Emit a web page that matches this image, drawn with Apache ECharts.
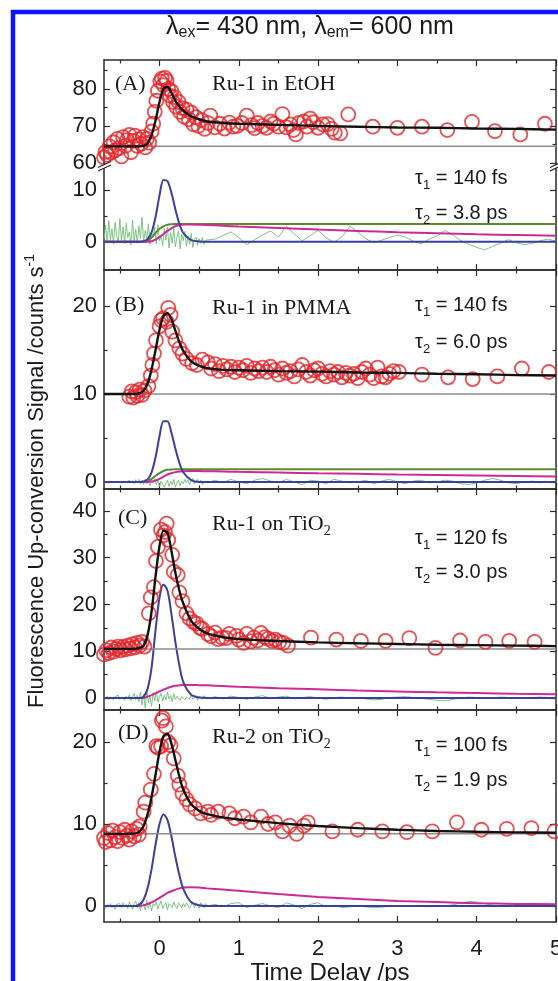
<!DOCTYPE html>
<html><head><meta charset="utf-8">
<script src="https://cdn.jsdelivr.net/npm/echarts@6/dist/echarts.min.js"></script>
<style>html,body{margin:0;padding:0;background:#fff}#c{width:558px;height:981px}</style>
</head><body><div id="c"></div>
<script>
// ---------------- DATA ----------------
const X_MIN = -0.7, X_MAX = 5;
const xMajorTicks = [0, 1, 2, 3, 4, 5];
const xMinorTicks = [-0.5, 0.5, 1.5, 2.5, 3.5, 4.5];

// fit curve sample times (shared)
const fitT = [-0.7,-0.4,-0.3,-0.25,-0.2,-0.15,-0.1,-0.05,0,0.05,0.1,0.15,0.2,0.25,0.3,0.4,0.5,0.6,0.8,1,1.5,2,2.5,3,3.5,4,4.5,5];

// Panel A : Ru-1 in EtOH
const baseA = 64.5;
const fitA  = [64.5,64.5,64.5,64.5,64.6,65.3,67.5,71.5,76.5,80.0,80.5,79.0,76.8,75.3,74.1,72.6,71.8,71.2,70.8,70.6,70.3,70.0,69.8,69.6,69.5,69.3,69.2,69.0];
const blueA = [0,0,0,0,0.1,0.5,1.8,4.8,9.0,12.0,11.8,9.5,6.3,3.5,1.7,0.3,0.05,0,0,0,0,0,0,0,0,0,0,0];
const oliveA= [0,0,0,0,0,0.2,0.8,1.7,2.5,3.0,3.3,3.4,3.45,3.45,3.45,3.45,3.45,3.45,3.45,3.45,3.45,3.45,3.45,3.45,3.45,3.45,3.45,3.45];
const magA  = [0,0,0,0,0,0,0.1,0.4,0.9,1.5,2.1,2.6,3.0,3.25,3.35,3.35,3.3,3.25,3.1,2.95,2.65,2.35,2.1,1.85,1.65,1.45,1.3,1.15];
const dataA = [[-0.70,61.5],[-0.68,63.0],[-0.66,62.2],[-0.63,64.5],[-0.61,62.8],[-0.58,65.6],[-0.56,63.4],[-0.53,66.5],[-0.51,64.0],[-0.48,61.8],[-0.46,67.0],[-0.43,64.6],[-0.41,66.2],[-0.38,67.6],[-0.36,62.9],[-0.33,66.0],[-0.31,67.4],[-0.28,64.6],[-0.26,66.3],[-0.23,65.2],[-0.21,67.0],[-0.18,64.2],[-0.16,66.5],[-0.13,65.5],
 [-0.10,68.5],[-0.08,70.6],[-0.06,73.8],[-0.04,76.8],[-0.02,79.5],[0.01,82.0],[0.03,82.8],[0.05,81.0],[0.07,83.0],[0.09,82.2],[0.11,80.0],[0.13,78.2],[0.15,79.4],[0.17,76.5],[0.19,77.8],[0.21,75.2],[0.24,76.5],[0.26,73.8],[0.29,74.8],[0.31,72.5],[0.34,74.4],[0.37,71.8],[0.40,73.6],[0.43,70.4],[0.46,72.4],[0.49,70.0],[0.53,71.6],[0.57,69.2],[0.61,70.8],
 [0.64,72.8],[0.70,69.6],[0.76,70.6],[0.82,69.3],[0.88,70.9],[0.93,69.8],[0.98,70.0],[1.04,70.8],[1.10,72.8],[1.16,70.2],[1.20,69.4],[1.24,70.8],[1.30,70.0],[1.35,69.5],[1.40,71.2],[1.44,70.6],[1.50,69.8],[1.55,73.2],[1.60,69.6],[1.65,70.4],[1.69,68.9],[1.72,67.7],[1.76,70.8],[1.82,71.2],[1.86,69.8],[1.90,72.0],[1.94,71.0],[2.00,69.5],[2.06,70.4],[2.12,70.5],[2.17,69.2],[2.21,68.2],[2.28,68.0],[2.38,73.1],
 [2.69,69.8],[3.00,69.5],[3.31,69.8],[3.63,68.9],[3.94,71.1],[4.23,68.6],[4.55,67.7],[4.86,70.6]];

// Panel B : Ru-1 in PMMA
const baseB = 10;
const fitB  = [10,10,10,10.1,10.4,11.2,12.8,15.0,17.3,18.9,19.2,18.5,17.2,15.9,14.9,13.7,13.2,12.95,12.75,12.7,12.6,12.55,12.45,12.4,12.3,12.25,12.15,12.1];
const blueB = [0,0,0,0,0.05,0.3,1.1,2.8,5.2,6.9,6.9,5.6,3.8,2.2,1.1,0.2,0,0,0,0,0,0,0,0,0,0,0,0];
const oliveB= [0,0,0,0,0,0.1,0.35,0.7,1.0,1.25,1.38,1.43,1.45,1.45,1.45,1.45,1.45,1.45,1.45,1.45,1.45,1.45,1.45,1.45,1.45,1.45,1.45,1.45];
const magB  = [0,0,0,0,0,0,0.05,0.15,0.35,0.6,0.85,1.0,1.12,1.2,1.23,1.25,1.24,1.22,1.19,1.15,1.07,0.99,0.92,0.85,0.79,0.73,0.68,0.63];
const dataB = [[-0.38,9.7],[-0.35,10.3],[-0.33,9.6],[-0.30,10.2],[-0.28,9.8],[-0.25,10.5],[-0.22,9.9],[-0.19,10.4],[-0.14,10.9],[-0.11,12.1],[-0.09,13.3],[-0.07,14.6],[-0.045,16.1],[0.0,17.7],[0.02,18.4],[0.045,18.6],[0.09,18.2],[0.11,19.8],[0.14,19.0],[0.16,17.1],[0.20,16.1],[0.25,15.2],[0.29,14.6],[0.34,14.0],[0.41,13.5],[0.47,13.3],[0.54,13.9],[0.61,13.6],
 [0.65,12.9],[0.70,13.4],[0.75,12.6],[0.80,13.2],[0.85,12.8],[0.90,13.1],[0.95,12.5],[1.00,13.0],[1.05,12.7],[1.10,13.2],[1.15,12.4],[1.20,12.9],[1.25,12.6],[1.30,13.0],[1.35,12.5],[1.40,13.1],[1.45,12.7],[1.50,12.2],[1.55,12.9],[1.60,12.4],[1.65,12.6],[1.70,12.0],[1.75,12.8],[1.80,13.3],[1.85,12.5],[1.90,12.1],[1.95,12.7],[2.00,12.9],[2.05,12.3],[2.10,12.0],[2.15,12.6],[2.20,12.2],[2.25,12.5],[2.30,11.9],[2.35,12.4],[2.40,12.1],[2.45,12.3],[2.50,11.8],[2.55,12.5],[2.60,12.9],[2.65,12.2],[2.70,11.8],[2.75,13.0],[2.80,12.0],[2.85,11.9],[2.90,12.3],[2.95,12.6],[3.02,12.5],
 [3.31,12.2],[3.64,11.9],[3.95,11.7],[4.26,12.0],[4.57,12.9],[4.91,12.5]];

// Panel C : Ru-1 on TiO2
const baseC = 10.5;
const fitC  = [10.5,10.5,10.55,10.7,11.2,13.5,18.5,26.0,32.5,35.8,35.3,31.5,26.8,23.0,20.2,16.5,14.8,13.8,13.0,12.6,12.2,11.9,11.7,11.55,11.4,11.3,11.2,11.1];
const blueC = [0,0,0,0,0.3,2.0,6.5,14.5,21.5,24.3,23.0,18.0,12.0,7.0,3.4,0.7,0.1,0,0,0,0,0,0,0,0,0,0,0];
const magC  = [0,0,0,0,0,0.3,0.6,1.0,1.4,1.8,2.15,2.4,2.6,2.7,2.78,2.8,2.75,2.7,2.55,2.4,2.1,1.85,1.6,1.4,1.2,1.05,0.9,0.78];
const dataC = [[-0.70,9.3],[-0.67,10.2],[-0.64,9.6],[-0.61,10.8],[-0.58,9.9],[-0.55,10.5],[-0.52,11.0],[-0.49,10.2],[-0.46,10.9],[-0.43,10.4],[-0.40,11.2],[-0.37,10.6],[-0.34,11.5],[-0.31,10.8],[-0.28,11.8],[-0.25,11.2],[-0.22,12.0],[-0.19,11.0],
 [-0.135,18.1],[-0.11,21.5],[-0.07,23.7],[-0.045,29.3],[-0.02,32.3],[0.02,36.0],[0.05,34.8],[0.07,35.5],[0.09,37.3],[0.11,33.8],[0.16,30.6],[0.18,27.0],[0.23,26.3],[0.25,22.6],[0.29,20.7],[0.34,18.1],[0.38,17.0],[0.43,16.2],[0.47,15.9],[0.51,15.0],[0.54,14.8],[0.61,13.7],[0.65,13.2],[0.70,14.0],[0.74,12.6],[0.79,12.9],[0.84,12.8],[0.88,13.7],[0.97,13.3],[1.00,12.5],[1.06,11.8],[1.10,13.7],[1.15,12.1],[1.19,12.9],[1.24,12.3],[1.28,13.9],[1.33,13.0],[1.37,12.7],[1.42,12.2],[1.46,12.5],[1.51,12.0],[1.56,11.8],[1.62,11.2],
 [1.91,12.9],[2.23,12.5],[2.54,12.2],[2.85,12.2],[3.15,12.8],[3.48,10.7],[3.79,12.3],[4.11,12.0],[4.41,12.2],[4.73,12.0]];

// Panel D : Ru-2 on TiO2
const baseD = 8.8;
const fitD  = [8.8,8.8,8.85,9.1,9.8,11.2,13.3,16.0,18.8,20.7,21.0,19.8,17.8,15.8,14.2,12.4,11.6,11.2,10.8,10.55,10.1,9.75,9.5,9.3,9.15,9.05,8.98,8.93];
const blueD = [0,0,0,0.2,0.8,2.2,4.5,7.5,10.0,11.2,10.5,8.5,6.0,3.8,2.1,0.45,0.1,0,0,0,0,0,0,0,0,0,0,0];
const magD  = [0,0,0,0,0.1,0.25,0.45,0.7,1.0,1.3,1.6,1.8,2.0,2.15,2.25,2.3,2.25,2.15,2.0,1.85,1.45,1.1,0.85,0.62,0.48,0.35,0.26,0.2];
const dataD = [[-0.70,8.3],[-0.68,7.8],[-0.65,8.9],[-0.62,8.0],[-0.59,9.2],[-0.56,8.4],[-0.53,7.9],[-0.50,9.0],[-0.47,8.3],[-0.44,9.3],[-0.41,8.6],[-0.38,8.1],[-0.35,9.1],[-0.32,8.5],[-0.29,9.4],[-0.26,8.7],
 [-0.25,9.7],[-0.20,11.5],[-0.18,12.6],[-0.11,14.2],[-0.07,16.1],[-0.04,19.5],[-0.02,19.3],[0.02,19.5],[0.03,22.6],[0.045,22.9],[0.08,21.9],[0.11,20.0],[0.14,19.6],[0.18,18.0],[0.23,15.9],[0.25,14.8],[0.29,13.7],[0.34,13.0],[0.38,12.4],[0.45,11.9],[0.52,11.3],[0.61,11.5],[0.65,11.1],[0.74,11.5],[0.88,11.3],[0.95,10.7],[1.06,10.9],[1.15,10.2],[1.28,10.9],[1.37,10.0],[1.46,10.2],[1.55,9.1],[1.64,9.8],[1.73,8.8],[1.82,9.8],[1.87,10.2],
 [2.18,9.1],[2.50,9.3],[2.81,9.1],[3.12,9.0],[3.44,9.1],[3.75,10.2],[4.06,9.3],[4.38,9.4],[4.69,9.5],[4.98,9.1]];

// residuals: dense part starts at -0.7 step 0.02, sparse part starts at 0.7 step 0.1
const RES_T0 = -0.7, RES_DT = 0.02, RES_T1 = 0.7, RES_DT1 = 0.1;
const resA_dense = [0.5,3.2,-0.3,4.1,0.2,2.5,-0.5,3.8,1.0,-0.2,4.5,0.3,2.9,-0.4,3.6,0.8,1.9,-0.6,4.2,0.1,2.4,-0.3,3.1,0.6,4.8,-0.2,2.2,0.4,3.5,-0.5,1.7,0.9,2.8,-0.4,3.3,0.2,1.2,-0.8,2.6,0.3,2.9,-1.2,1.8,-0.3,2.5,-1.0,0.9,2.1,-1.4,1.5,0.2,2.0,-0.9,1.1,-0.5,1.6,-1.1,0.4,0.9,-0.7,0.6,-0.3,0.8,-0.5,0.3,0.5];
const resA_sparse= [0.5,1.2,1.9,0.8,-0.6,0.4,1.3,2.1,0.9,3.0,1.5,0.2,1.2,2.2,0.8,-0.1,0.9,3.0,1.9,0.6,-0.2,0.3,0.8,1.3,0.9,0.1,-0.4,0.5,1.1,2.2,1.3,0.2,-0.5,-1.1,-1.6,-0.9,-0.3,0.4,-0.2,-0.6,-0.3,0.2,0.5,0.1];
const resB_dense = [0.0,0.05,-0.05,0.0,0.05,-0.1,0.0,0.05,0.0,-0.05,0.0,0.05,-0.1,0.1,0.0,-0.15,0.2,-0.1,0.15,-0.2,0.25,-0.1,0.3,-0.25,0.2,-0.3,0.35,-0.2,0.1,-0.4,0.3,-0.1,0.4,-0.3,0.2,-0.5,0.1,0.3,-0.6,-0.2,0.2,-0.5,0.1,-0.3,0.3,-0.6,-0.1,0.2,-0.4,0.1,-0.2,0.3,-0.1,0.2,-0.3,0.1,0.4,-0.2,0.0,0.3,-0.1,0.2,-0.3,0.1,0.2,-0.1];
const resB_sparse= [0.2,-0.1,0.3,0.0,-0.2,0.2,0.4,0.1,-0.1,0.3,0.0,-0.3,0.2,0.1,-0.2,0.3,0.1,-0.1,0.0,0.2,-0.2,0.1,0.3,0.0,-0.2,0.1,0.2,-0.1,0.0,0.2,0.1,-0.2,-0.3,-0.1,0.2,0.4,0.2,-0.1,-0.2,0.0,0.1,-0.1,0.0,0.1];
const resC_dense = [0.3,-0.2,0.4,-0.3,0.2,0.5,-0.4,0.3,-0.1,0.6,-0.3,0.2,0.5,-0.5,0.4,-0.2,0.7,-0.6,0.3,1.0,-0.4,0.6,-0.8,1.3,-1.5,0.8,-2.2,1.6,-1.0,0.5,-1.8,1.2,-0.6,1.4,-0.9,0.3,1.0,-0.7,0.6,-0.4,1.2,-0.2,0.5,-0.8,0.9,-0.3,0.4,0.8,-0.5,0.3,0.6,-0.4,0.2,0.5,-0.2,0.7,-0.3,0.1,0.4,-0.5,0.3,0.2,-0.3,0.5,0.1,-0.2];
const resC_sparse= [0.3,-0.2,0.4,0.1,-0.3,0.2,0.5,-0.1,0.2,0.4,-0.2,0.1,0.3,0.0,-0.3,0.1,0.2,-0.1,0.0,-0.2,-0.4,-0.3,0.1,0.2,0.3,0.1,-0.1,-0.3,-0.5,-0.6,-0.3,0.0,0.2,0.1,-0.1,0.0,0.2,0.1,-0.1,0.0,0.1,0.2,0.1,0.0];
const resD_dense = [0.0,-0.3,0.2,-0.1,0.3,-0.2,0.1,-0.4,0.2,0.0,0.3,-0.2,0.4,-0.1,0.2,-0.3,0.5,0.1,-0.4,0.3,0.6,-0.2,0.4,-0.6,0.5,0.2,-0.5,0.7,-0.3,0.4,-0.6,0.3,0.0,0.5,-0.4,0.2,0.6,-0.3,0.1,0.4,-0.5,0.3,0.2,-0.2,0.5,0.0,-0.3,0.4,0.1,-0.2,0.3,-0.1,0.4,0.2,-0.3,0.1,0.5,-0.2,0.3,0.0,-0.3,0.4,0.1,-0.2,0.3,0.0];
const resD_sparse= [0.2,-0.1,0.3,0.4,-0.2,0.1,0.3,0.0,-0.2,0.4,0.1,-0.3,0.2,0.4,-0.1,0.1,-0.2,-0.1,0.0,-0.1,-0.2,-0.15,-0.05,0.0,-0.05,0.0,-0.05,-0.1,-0.05,0.0,0.15,0.35,0.55,0.5,0.3,0.1,0.0,-0.05,0.0,0.05,0.0,0.05,0.1,0.05];

// y tick labels per plot region
const yMajorA1 = [60,70,80], yMinorA1 = [65,75,85];
const yMajorA2 = [0,10],     yMinorA2 = [5];
const yMajorB  = [0,10,20],  yMinorB  = [5,15];
const yMajorC  = [0,10,20,30,40], yMinorC = [5,15,25,35];
const yMajorD  = [0,10,20],  yMinorD  = [5,15];

// ---------------- LAYOUT ----------------
const L = 104, R = 2;
const regions = [
  {top:60,  bot:163, min:60,   max:87.8, maj:yMajorA1, mnr:yMinorA1, lineTop:true,  lineBot:false},
  {top:163, bot:270, min:-5.5, max:15.3, maj:yMajorA2, mnr:yMinorA2, lineTop:false, lineBot:true},
  {top:270, bot:489, min:-0.8, max:24.1, maj:yMajorB,  mnr:yMinorB,  lineTop:true,  lineBot:true},
  {top:489, bot:710, min:-2.57,max:44.7, maj:yMajorC,  mnr:yMinorC,  lineTop:true,  lineBot:true},
  {top:710, bot:922, min:-1.95,max:23.9, maj:yMajorD,  mnr:yMinorD,  lineTop:true,  lineBot:true}
];
const AX = '#2b2b2b';
const SANS = '"Liberation Sans", Arial, Helvetica, sans-serif';
const SERIF = '"Liberation Serif", "Times New Roman", serif';
const MAJ = 6, MIN = 3.5;

const grids = [], xAxes = [], yAxes = [];
function xa(g, pos, ticks, len, line, extra) {
  return Object.assign({
    gridIndex: g, type: 'value', position: pos, min: X_MIN, max: X_MAX,
    axisLine: {show: line, onZero: false, lineStyle: {color: AX, width: 1.5}},
    axisTick: {show: ticks.length > 0, inside: true, length: len, customValues: ticks, lineStyle: {color: AX, width: 1.2}},
    axisLabel: {show: false}, splitLine: {show: false}
  }, extra || {});
}
function ya(g, pos, r, ticks, len, line, extra) {
  return Object.assign({
    gridIndex: g, type: 'value', position: pos, min: r.min, max: r.max,
    axisLine: {show: line, onZero: false, lineStyle: {color: AX, width: 1.5}},
    axisTick: {show: ticks.length > 0, inside: true, length: len, customValues: ticks, lineStyle: {color: AX, width: 1.2}},
    axisLabel: {show: false}, splitLine: {show: false}
  }, extra || {});
}
regions.forEach((r, p) => {
  const gm = 2 * p, gn = 2 * p + 1;
  const gdef = {left: L, right: R, top: r.top, height: r.bot - r.top, containLabel: false, outerBoundsMode: 'none'};
  grids.push(Object.assign({}, gdef));
  grids.push(Object.assign({}, gdef));
  const last = p === regions.length - 1;
  xAxes.push(xa(gm, 'bottom', r.lineBot ? xMajorTicks : [], MAJ, r.lineBot, last ? {
    axisLabel: {show: true, customValues: xMajorTicks, fontSize: 22, fontFamily: SANS, color: '#1a1a1a', margin: 16},
    name: 'Time Delay /ps', nameLocation: 'middle', nameGap: 35,
    nameTextStyle: {fontSize: 24, fontFamily: SANS, color: '#1a1a1a'}
  } : {}));
  xAxes.push(xa(gm, 'top', r.lineTop ? xMajorTicks : [], MAJ, r.lineTop));
  xAxes.push(xa(gn, 'bottom', r.lineBot ? xMinorTicks : [], MIN, false));
  xAxes.push(xa(gn, 'top', r.lineTop ? xMinorTicks : [], MIN, false));
  yAxes.push(ya(gm, 'left', r, r.maj, MAJ, true, {
    axisLabel: {show: true, customValues: r.maj, fontSize: 22, fontFamily: SANS, color: '#1a1a1a', margin: 7}
  }));
  yAxes.push(ya(gm, 'right', r, r.maj, MAJ, true));
  yAxes.push(ya(gn, 'left', r, r.mnr, MIN, false));
  yAxes.push(ya(gn, 'right', r, r.mnr, MIN, false));
});

const zip = (t, v) => t.map((x, i) => [x, v[i]]);
const resid = (d, s) => d.map((v, i) => [+(RES_T0 + i * RES_DT).toFixed(3), v])
  .concat(s.map((v, i) => [+(RES_T1 + i * RES_DT1).toFixed(3), v]));
const C_RED = '#e3262b', C_BLK = '#111111', C_GRY = '#8c8c8c', C_BLU = '#3b3f9e', C_MAG = '#cc2b96', C_OLV = '#5e8a2e', C_RES = '#72bd78';

const series = [];
function line(p, data, color, width, z, smooth) {
  series.push({type: 'line', xAxisIndex: 4 * p, yAxisIndex: 4 * p, data, showSymbol: false, symbol: 'none',
    smooth: smooth || false, lineStyle: {color, width}, z, silent: true, animation: false});
}
function dots(p, data) {
  series.push({type: 'scatter', xAxisIndex: 4 * p, yAxisIndex: 4 * p, data, symbol: 'circle', symbolSize: 14,
    itemStyle: {color: 'rgba(0,0,0,0)', borderColor: C_RED, borderWidth: 1.8}, z: 3, clip: false, silent: true, animation: false});
}
function baseLine(p, v) { line(p, [[X_MIN, v], [X_MAX, v]], C_GRY, 1.5, 2); }

// Panel A upper / lower
baseLine(0, baseA); dots(0, dataA); line(0, zip(fitT, fitA), C_BLK, 2.4, 4, 0.3);
line(1, resid(resA_dense, resA_sparse), C_RES, 0.9, 1);
line(1, zip(fitT, oliveA), C_OLV, 2, 2, 0.3);
line(1, zip(fitT, magA), C_MAG, 2, 2, 0.3);
line(1, zip(fitT, blueA), C_BLU, 2, 2, 0.3);
// Panel B
line(2, resid(resB_dense, resB_sparse), C_RES, 0.9, 1);
line(2, zip(fitT, oliveB), C_OLV, 2, 2, 0.3);
line(2, zip(fitT, magB), C_MAG, 2, 2, 0.3);
line(2, zip(fitT, blueB), C_BLU, 2, 2, 0.3);
baseLine(2, baseB); dots(2, dataB); line(2, zip(fitT, fitB), C_BLK, 2.4, 4, 0.3);
// Panel C
line(3, resid(resC_dense, resC_sparse), C_RES, 0.9, 1);
line(3, zip(fitT, magC), C_MAG, 2, 2, 0.3);
line(3, zip(fitT, blueC), C_BLU, 2, 2, 0.3);
baseLine(3, baseC); dots(3, dataC); line(3, zip(fitT, fitC), C_BLK, 2.4, 4, 0.3);
// Panel D
line(4, resid(resD_dense, resD_sparse), C_RES, 0.9, 1);
line(4, zip(fitT, magD), C_MAG, 2, 2, 0.3);
line(4, zip(fitT, blueD), C_BLU, 2, 2, 0.3);
baseLine(4, baseD); dots(4, dataD); line(4, zip(fitT, fitD), C_BLK, 2.4, 4, 0.3);

// ---------------- TEXTS ----------------
const subSans = {fontSize: 13, verticalAlign: 'bottom', lineHeight: 14, fontFamily: SANS, color: '#1a1a1a'};
const subTitle = {fontSize: 16, verticalAlign: 'bottom', lineHeight: 16, fontFamily: SANS, color: '#1a1a1a'};
const subSerif = {fontSize: 14, verticalAlign: 'bottom', lineHeight: 14, fontFamily: SERIF, color: '#1a1a1a'};
function t(text, left, top, family, size, rich) {
  return {text, left, top, padding: 0, textStyle: {fontFamily: family, fontSize: size, fontWeight: 'normal', color: '#1a1a1a', lineHeight: 28, rich: rich || {}}};
}
const titles = [
  t('λ{sub|ex}= 430 nm, λ{sub|em}= 600 nm', 166, 13, SANS, 25, {sub: subTitle}),
  t('(A)', 115, 70, SERIF, 22), t('Ru-1 in EtOH', 212, 70, SERIF, 22),
  t('τ{sub|1} = 140 fs', 415, 164, SANS, 20, {sub: subSans}), t('τ{sub|2} = 3.8 ps', 415, 199, SANS, 20, {sub: subSans}),
  t('(B)', 115, 291, SERIF, 22), t('Ru-1 in PMMA', 212, 294, SERIF, 22),
  t('τ{sub|1} = 140 fs', 415, 291, SANS, 20, {sub: subSans}), t('τ{sub|2} = 6.0 ps', 415, 328, SANS, 20, {sub: subSans}),
  t('(C)', 118, 504, SERIF, 22), t('Ru-1 on TiO{sub|2}', 212, 510, SERIF, 22, {sub: subSerif}),
  t('τ{sub|1} = 120 fs', 415, 524, SANS, 20, {sub: subSans}), t('τ{sub|2} = 3.0 ps', 415, 558, SANS, 20, {sub: subSans}),
  t('(D)', 118, 719, SERIF, 22), t('Ru-2 on TiO{sub|2}', 212, 723, SERIF, 22, {sub: subSerif}),
  t('τ{sub|1} = 100 fs', 415, 731, SANS, 20, {sub: subSans}), t('τ{sub|2} = 1.9 ps', 415, 766, SANS, 20, {sub: subSans})
];

// break marks on the split y axis of panel A
const BY = regions[0].bot;
function brk(x) {
  return [
    {type: 'polygon', shape: {points: [[x - 5, BY + 4], [x + 7, BY - 2], [x + 7, BY + 2], [x - 5, BY + 8]]}, style: {fill: '#fff'}, z: 100},
    {type: 'line', shape: {x1: x - 6, y1: BY + 4.5, x2: x + 7, y2: BY - 1.5}, style: {stroke: AX, lineWidth: 1.3}, z: 101},
    {type: 'line', shape: {x1: x - 6, y1: BY + 8, x2: x + 7, y2: BY + 2}, style: {stroke: AX, lineWidth: 1.3}, z: 101}
  ];
}
const graphic = [
  {type: 'rect', shape: {x: 13, y: 12, width: 640, height: 1100}, style: {fill: 'none', stroke: '#0a14ff', lineWidth: 4.5}, z: 100},
  {type: 'text', x: 37, y: 481, rotation: Math.PI / 2, z: 100,
   style: {text: 'Fluorescence Up-conversion Signal /counts s{sup|-1}', fontSize: 22, fontFamily: SANS, fill: '#1a1a1a',
     align: 'center', verticalAlign: 'middle', lineHeight: 28,
     rich: {sup: {fontSize: 14, verticalAlign: 'top', lineHeight: 14, fontFamily: SANS, fill: '#1a1a1a'}}}}
].concat(brk(L), brk(558 - R));

const chart = echarts.init(document.getElementById('c'), null, {renderer: 'canvas'});
chart.setOption({
  backgroundColor: '#fff', animation: false,
  title: titles, grid: grids, xAxis: xAxes, yAxis: yAxes, series, graphic
});
</script></body></html>
